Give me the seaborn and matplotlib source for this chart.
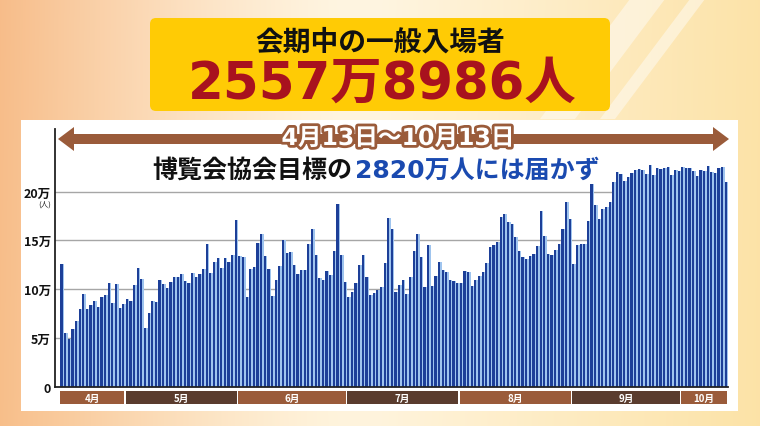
import numpy as np
import pandas as pd
import matplotlib
matplotlib.use("Agg")
import matplotlib.pyplot as plt
import matplotlib.patheffects as pe
from matplotlib.patches import FancyBboxPatch, Rectangle, Polygon
from matplotlib.transforms import blended_transform_factory
import seaborn as sns

# daily general visitors (unit: 万人), 4/13 - 10/13
apr = [12.6, 5.5, 4.9, 5.9, 6.8, 8.0, 9.5, 8.0, 8.4, 8.75, 8.2, 9.2, 9.4, 10.6, 8.6, 10.5, 8.1, 8.5]
may = [9.0, 8.8, 10.4, 12.2, 11.1, 6.0, 7.6, 8.8, 8.7, 10.9, 10.5, 10.1, 10.7, 11.3, 11.3, 11.6,
       10.8, 10.6, 11.7, 11.3, 11.6, 12.1, 14.6, 11.7, 12.8, 13.2, 12.2, 13.2, 12.75, 13.5, 17.1]
jun = [13.4, 13.3, 9.2, 12.1, 12.3, 14.7, 15.7, 13.4, 12.1, 9.3, 10.9, 12.4, 15.0, 13.7, 13.8,
       12.5, 11.6, 12.0, 12.0, 14.6, 16.2, 13.5, 11.2, 10.9, 11.9, 11.5, 13.9, 18.7, 13.5, 10.7]
jul = [9.2, 9.7, 10.6, 12.5, 13.5, 11.3, 9.4, 9.6, 9.9, 10.2, 12.7, 17.3, 16.2, 9.7, 10.4, 10.9,
       9.5, 11.3, 13.9, 15.7, 13.3, 10.2, 14.5, 10.3, 11.4, 12.8, 12.0, 11.8, 11.0, 10.8, 10.6]
aug = [10.6, 11.9, 11.8, 10.3, 11.0, 11.4, 11.8, 12.7, 14.3, 14.5, 14.8, 17.4, 17.7, 16.9, 16.7,
       15.4, 13.9, 13.3, 13.1, 13.4, 13.6, 14.4, 18.0, 15.5, 13.6, 13.5, 14.0, 14.6, 16.2, 18.9, 17.2]
sep = [12.6, 14.5, 14.6, 14.6, 17.0, 20.8, 18.6, 17.2, 18.2, 18.4, 18.9, 21.0, 22.0, 21.8, 21.1,
       21.5, 21.9, 22.2, 22.3, 22.2, 21.8, 22.7, 21.7, 22.4, 22.3, 22.4, 22.5, 21.7, 22.2, 22.1]
oct_ = [22.5, 22.4, 22.4, 22.1, 21.6, 22.2, 22.1, 22.6, 22.0, 21.9, 22.4, 22.5, 21.0]

month_labels = ["4月", "5月", "6月", "7月", "8月", "9月", "10月"]
month_data = [apr, may, jun, jul, aug, sep, oct_]
yticks = [0, 5, 10, 15, 20]
ytick_labels = ["0", "5万", "10万", "15万", "20万"]

visitors = sum(month_data, [])
df = pd.DataFrame({"day": np.arange(len(visitors)), "visitors": visitors})

sns.set_style("white")
plt.rcParams["font.family"] = ["Noto Sans CJK JP", "DejaVu Sans"]
num_font = ["DejaVu Sans", "Noto Sans CJK JP"]

BROWN = "#9a5b3a"
DARK_BROWN = "#5a3c2e"

fig = plt.figure(figsize=(7.6, 4.27), dpi=100)

# background layer in pixel coordinates
bg = fig.add_axes([0, 0, 1, 1])
bg.set_xlim(0, 760)
bg.set_ylim(427, 0)
bg.axis("off")

t = np.linspace(0, 1, 760)[None, :, None]
v = np.linspace(0, 1, 427)[:, None, None]
c_left = np.array([0.97, 0.74, 0.54])
c_mid = np.array([1.0, 0.96, 0.88])
c_right = np.array([0.99, 0.89, 0.66])
w_l = np.clip(1 - t / 0.45, 0, 1) ** 1.3
w_r = np.clip((t - 0.5) / 0.5, 0, 1)
img = c_mid * (1 - w_l - w_r) + c_left * w_l + c_right * w_r
img = img * (1 - 0.05 * v) + np.array([0.99, 0.88, 0.55]) * 0.05 * v
bg.imshow(np.clip(img, 0, 1), extent=(0, 760, 427, 0), aspect="auto", zorder=0)
bg.add_patch(Polygon([(630, 0), (665, 0), (575, 120), (540, 120)], color="white", alpha=0.45, lw=0, zorder=1))
bg.add_patch(Polygon([(690, 0), (705, 0), (615, 120), (600, 120)], color="white", alpha=0.45, lw=0, zorder=1))

# white panel and yellow headline box
bg.add_patch(Rectangle((21, 121), 717, 291, color="white", lw=0, zorder=2))
bg.add_patch(FancyBboxPatch((150, 19), 460, 93, boxstyle="round,pad=0,rounding_size=6",
                            color="#ffcb05", lw=0, zorder=2))
bg.text(380, 42, "会期中の一般入場者", fontsize=20, weight="bold", color="#111111",
        ha="center", va="center", zorder=3)
bg.text(382, 85, "2557万8986人", fontsize=37, weight="bold", color="#a8121e",
        family=num_font, ha="center", va="center", zorder=3)

# double arrow with period label
bg.add_patch(Polygon([(58, 140), (74, 128), (74, 135), (713, 135), (713, 128), (729, 140),
                      (713, 152), (713, 145), (74, 145), (74, 152)], color=BROWN, lw=0, zorder=3))
bg.text(398, 139, "4月13日～10月13日", fontsize=17, weight="bold", color="white",
        family=num_font, ha="center", va="center", zorder=4,
        path_effects=[pe.withStroke(linewidth=4, foreground=BROWN)])

bg.text(352, 171, "博覧会協会目標の", fontsize=18, weight="bold", color="#111111",
        ha="right", va="center", zorder=4)
bg.text(355, 171, "2820万人には届かず", fontsize=18, weight="bold", color="#1a4ab0",
        family=num_font, ha="left", va="center", zorder=4)
bg.text(45, 205, "(人)", fontsize=5.5, color="#222222", ha="center", va="center", zorder=4)

# bar chart
ax = fig.add_axes([55 / 760, (427 - 388) / 427, (728 - 55) / 760, (388 - 130) / 427])
ax.set_facecolor("none")
sns.barplot(x=df["day"] + 0.2, y=df["visitors"], native_scale=True, width=1.0, color="#9fc4ee",
            linewidth=0, saturation=1, errorbar=None, ax=ax)
sns.barplot(data=df, x="day", y="visitors", native_scale=True, width=0.6, color="#1d3f98",
            linewidth=0, saturation=1, errorbar=None, ax=ax)
ax.set_xlim(-1.8, 183.6)
ax.set_ylim(0, 26.4)
ax.set_xticks([])
ax.set_yticks(yticks)
ax.set_yticklabels(ytick_labels, fontsize=9, weight="bold", color="#111111")
ax.set_xlabel("")
ax.set_ylabel("")
ax.tick_params(axis="y", length=0, pad=3)
for lab in ax.get_yticklabels():
    if lab.get_text() == "20万":
        lab.set_y(20.35)
ax.grid(axis="y", color="#a6a6a6", lw=1.0)
ax.set_axisbelow(True)
for s in ["top", "right"]:
    ax.spines[s].set_visible(False)
for s in ["left", "bottom"]:
    ax.spines[s].set_color("#222222")
    ax.spines[s].set_linewidth(1.3)

# month bands under the axis
trans = blended_transform_factory(ax.transData, bg.transData)
start = 0
for i, (lab, days) in enumerate(zip(month_labels, month_data)):
    n = len(days)
    col = BROWN if i % 2 == 0 else DARK_BROWN
    bg.add_patch(Rectangle((start - 0.3, 392), n - 0.45, 13, transform=trans, color=col,
                           lw=0, zorder=3, clip_on=False))
    bg.text(start - 0.3 + (n - 0.45) / 2, 398.5, lab, transform=trans, fontsize=7,
            weight="bold", color="white", ha="center", va="center", zorder=4)
    start += n

fig.savefig("out.png", dpi=100)
